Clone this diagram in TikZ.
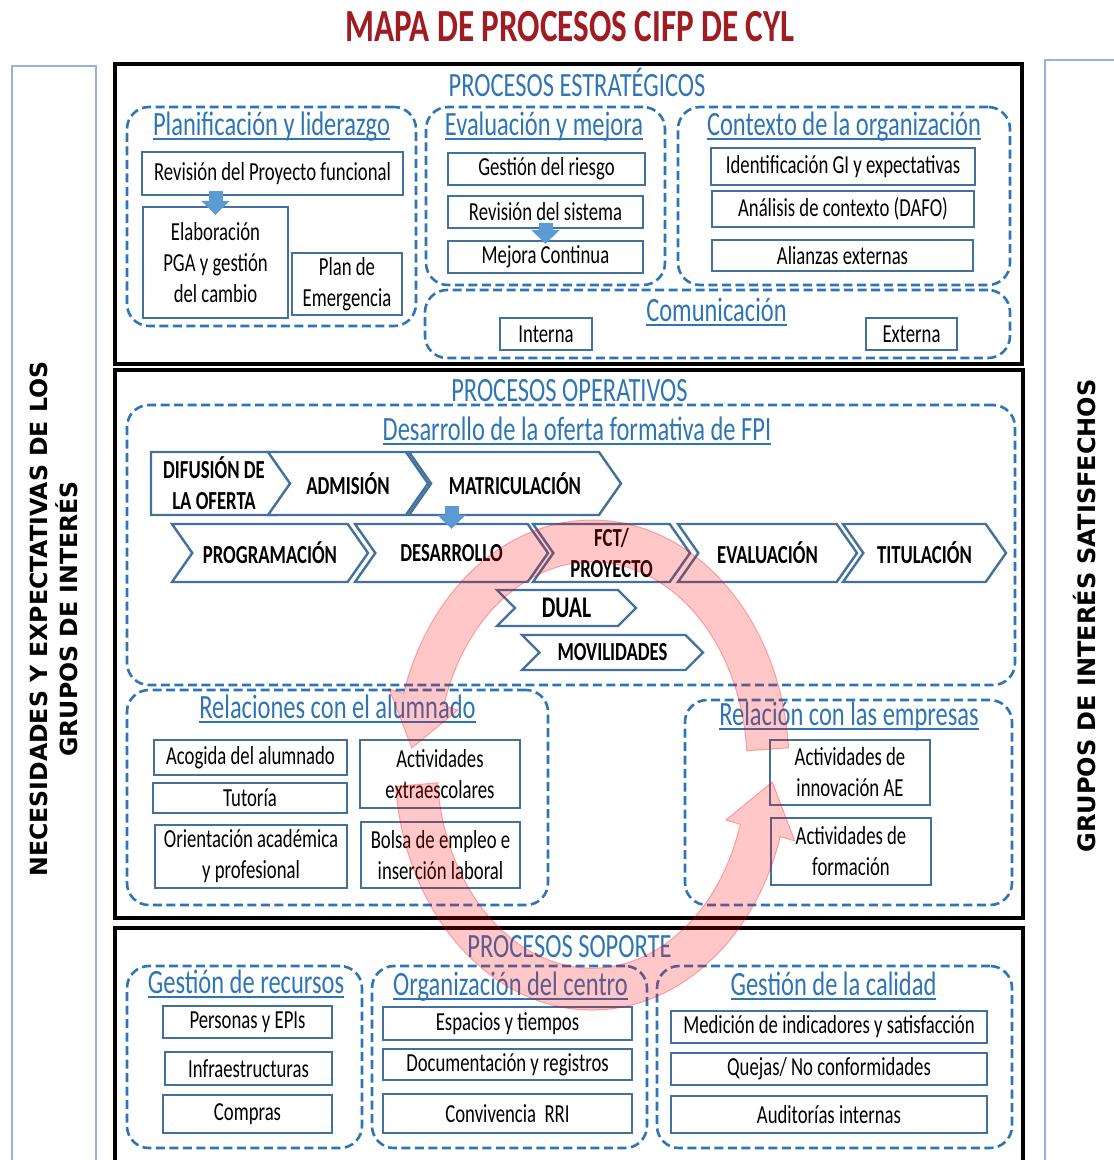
\documentclass[tikz,border=0pt]{standalone}
\usepackage{fontspec}
\setmainfont{Carlito}[FakeStretch=0.72]
\newfontfamily\ladofont{DejaVu Sans}
\usetikzlibrary{shapes.symbols,arrows.meta}
\definecolor{cajazul}{RGB}{65,113,156}
\definecolor{grupoazul}{RGB}{46,117,182}
\definecolor{flechazul}{RGB}{91,155,213}
\definecolor{rojotitulo}{RGB}{160,28,34}
\definecolor{columnazul}{RGB}{149,179,215}
\newcommand\cuerpo{\fontsize{26}{31}\selectfont}
\newcommand\chevfont{\fontsize{26}{31}\selectfont\bfseries}
\newcommand\subraya[1]{\setbox0=\hbox{#1}\rlap{\raisebox{-5pt}{\rule{\wd0}{1.8pt}}}\box0}
\tikzset{
  bloque/.style 2 args={draw=black, line width=3.5pt, minimum width=#1pt, minimum height=#2pt, inner sep=0pt},
  grupo/.style 2 args={draw=grupoazul, line width=2.6pt, dash pattern=on 9pt off 4.5pt, rounded corners=22pt, minimum width=#1pt, minimum height=#2pt, inner sep=0pt},
  caja/.style 2 args={draw=cajazul, line width=2.4pt, fill=white, inner sep=0pt, align=center, font=\cuerpo, minimum width=#1pt, minimum height=#2pt},
  etapa/.style 2 args={signal, signal to=east, signal from=west, signal pointer angle=110, draw=cajazul, line width=2.4pt, fill=white, inner sep=0pt, align=center, font=\chevfont, minimum width=#1pt, minimum height=#2pt},
  cabecera/.style={text=grupoazul, font=\fontsize{34}{40}\selectfont, inner sep=0pt, anchor=base},
  titgrupo/.style={text=grupoazul, font=\fontsize{34}{40}\selectfont, inner sep=0pt, anchor=base},
  columna/.style 2 args={draw=columnazul, line width=2pt, rotate=90, minimum width=#1pt, minimum height=#2pt, align=center, inner sep=0pt, font=\ladofont\bfseries\fontsize{23.6}{30}\selectfont},
  flechita/.style={draw=flechazul, line width=14pt, -{Triangle[width=28pt,length=14pt]}},
  ciclo/.style={fill=red, fill opacity=0.22, draw=red, draw opacity=0.3, line width=1pt}
}
\begin{document}
\begin{tikzpicture}[x=1pt, y=1pt]
\useasboundingbox (0,0) rectangle (1114,-1160);
\clip (0,0) rectangle (1114,-1160);
\node[text=rojotitulo, font=\fontsize{46}{50}\selectfont\bfseries] (titulo) at (570,-27) {MAPA DE PROCESOS CIFP DE CYL};
\node[columna={1106}{84}] (necesidades) at (54,-619) {NECESIDADES Y EXPECTATIVAS DE LOS\\GRUPOS DE INTERÉS};
\node[columna={1112}{80}, font=\ladofont\bfseries\fontsize{24}{30}\selectfont] (satisfechos) at (1085,-616) {GRUPOS DE INTERÉS SATISFECHOS};

\node[bloque={907}{300}] (estrat) at (568.5,-214) {};
\node[bloque={908}{548}] (operat) at (569,-644) {};
\node[bloque={908}{250}] (soporte) at (569,-1053) {};
\node[cabecera] (cabestrat) at (577,-96) {PROCESOS ESTRATÉGICOS};
\node[cabecera] (caboperat) at (569.5,-401) {PROCESOS OPERATIVOS};
\node[cabecera] (cabsoporte) at (569.5,-957) {PROCESOS SOPORTE};

\node[grupo={289}{219}] (planif) at (271.5,-216.5) {};
\node[grupo={239}{178}] (evalm) at (545.5,-196) {};
\node[grupo={332}{178}] (contexto) at (844,-196) {};
\node[grupo={585}{68}] (comunic) at (717.5,-324) {};
\node[grupo={888}{280}] (desarrollo) at (571,-545) {};
\node[grupo={421}{215}] (relalum) at (337.5,-797.5) {};
\node[grupo={327}{205}] (relemp) at (848.5,-802.5) {};
\node[grupo={235}{182}] (recursos) at (244.5,-1057) {};
\node[grupo={275}{182}] (organiz) at (509.5,-1057) {};
\node[grupo={355}{182}] (calidad) at (834.5,-1057) {};

\node[titgrupo] (tplanif) at (271.5,-135) {\subraya{Planificación y liderazgo}};
\node[titgrupo] (tevalm) at (544,-135) {\subraya{Evaluación y mejora}};
\node[titgrupo] (tcontexto) at (844,-135) {\subraya{Contexto de la organización}};
\node[titgrupo] (tcomunic) at (716.5,-321) {\subraya{Comunicación}};
\node[titgrupo] (tdesarrollo) at (577,-440) {\subraya{Desarrollo de la oferta formativa de FPI}};
\node[titgrupo] (trelalum) at (337.5,-718) {\subraya{Relaciones con el alumnado}};
\node[titgrupo] (trelemp) at (849,-725) {\subraya{Relación con las empresas}};
\node[titgrupo] (trecursos) at (246,-993) {\subraya{Gestión de recursos}};
\node[titgrupo] (torganiz) at (510.5,-995) {\subraya{Organización del centro}};
\node[titgrupo] (tcalidad) at (833.5,-995) {\subraya{Gestión de la calidad}};

\node[caja={261}{43}] (revpf) at (272.5,-173.5) {Revisión del Proyecto funcional};
\node[caja={145}{111}] (elab) at (215.5,-262.5) {Elaboración\\PGA y gestión\\del cambio};
\node[caja={110}{62}] (plan) at (347,-284) {Plan de\\Emergencia};
\node[caja={197}{32}] (riesgo) at (546.5,-169) {Gestión del riesgo};
\node[caja={195}{32}] (revsis) at (545.5,-212) {Revisión del sistema};
\node[caja={195}{32}] (mejora) at (545.5,-257) {Mejora Continua};
\node[caja={264}{37}] (identif) at (843,-166.5) {Identificación GI y expectativas};
\node[caja={262}{36}] (analisis) at (843,-209) {Análisis de contexto (DAFO)};
\node[caja={261}{31}] (alianzas) at (842.5,-255.5) {Alianzas externas};
\node[caja={92}{32}] (interna) at (546,-334) {Interna};
\node[caja={91}{32}] (externa) at (911.5,-334) {Externa};

\node[etapa={148}{63}, signal from=nowhere] (difusion) at (214,-483.5) {DIFUSIÓN DE\\LA OFERTA};
\node[etapa={160}{63}] (admision) at (348,-483.5) {ADMISIÓN};
\node[etapa={212}{63}] (matri) at (515,-483.5) {MATRICULACIÓN};
\node[etapa={196}{58}] (progra) at (270,-553) {PROGRAMACIÓN};
\node[etapa={193}{58}] (desa) at (451.5,-553) {DESARROLLO};
\node[etapa={157}{58}] (fct) at (611.5,-553) {FCT/\\PROYECTO};
\node[etapa={179}{58}] (evalua) at (767.5,-553) {EVALUACIÓN};
\node[etapa={163}{58}] (titula) at (924.5,-553) {TITULACIÓN};
\node[etapa={139}{36}, signal pointer angle=90, font=\fontsize{30}{36}\selectfont\bfseries] (dual) at (566.5,-608) {DUAL};
\node[etapa={181}{35}, signal pointer angle=90] (movil) at (612.5,-652.5) {MOVILIDADES};

\node[caja={193}{35}] (acogida) at (250.5,-757.5) {Acogida del alumnado};
\node[caja={194}{30}] (tutoria) at (250,-798) {Tutoría};
\node[caja={192}{63}] (orienta) at (251,-856.5) {Orientación académica\\y profesional};
\node[caja={160}{68}] (extraesc) at (440,-774) {Actividades\\extraescolares};
\node[caja={159}{66}] (bolsa) at (440.5,-855) {Bolsa de empleo e\\inserción laboral};
\node[caja={160}{65}] (innova) at (850,-772.5) {Actividades de\\innovación AE};
\node[caja={160}{67}] (formac) at (851,-851.5) {Actividades de\\formación};

\node[caja={169}{32}] (personas) at (247.5,-1022) {Personas y EPIs};
\node[caja={167}{33}] (infra) at (248.5,-1068.5) {Infraestructuras};
\node[caja={169}{38}] (compras) at (247.5,-1114) {Compras};
\node[caja={249}{33}] (espacios) at (507.5,-1023.5) {Espacios y tiempos};
\node[caja={249}{31}] (docum) at (507.5,-1064.5) {Documentación y registros};
\node[caja={249}{39}] (conviv) at (507.5,-1113.5) {Convivencia~~RRI};
\node[caja={316}{32}] (medicion) at (829,-1027) {Medición de indicadores y satisfacción};
\node[caja={316}{32}] (quejas) at (829,-1069) {Quejas/ No conformidades};
\node[caja={316}{37}] (audit) at (829,-1114.5) {Auditorías internas};

\draw[flechita] ([yshift=5pt]revpf.south -| elab.north) -- ([yshift=-9pt]elab.north);
\draw[flechita] ([yshift=6pt]revsis.south -| mejora.north) -- ([yshift=-4pt]mejora.north);
\draw[flechita] ([yshift=10pt]matri.south -| desa.north) -- ([yshift=-6pt]desa.north);

\draw[ciclo] (746.6,-750.8) -- (788.5,-747.9) arc[start angle=4, end angle=163, x radius=197, y radius=245]
  -- (389.2,-689) -- (411.8,-748) -- (458.2,-710) -- (443.8,-705.6)
  arc[start angle=163, end angle=4, x radius=155, y radius=203] -- cycle;
\draw[ciclo] (437.6,-782.7) -- (395.7,-786.4) arc[start angle=185, end angle=343, x radius=197, y radius=245]
  -- (794.8,-841) -- (772.3,-781.9) -- (725.8,-820) -- (740.2,-824.4)
  arc[start angle=343, end angle=185, x radius=155, y radius=203] -- cycle;
\end{tikzpicture}
\end{document}
